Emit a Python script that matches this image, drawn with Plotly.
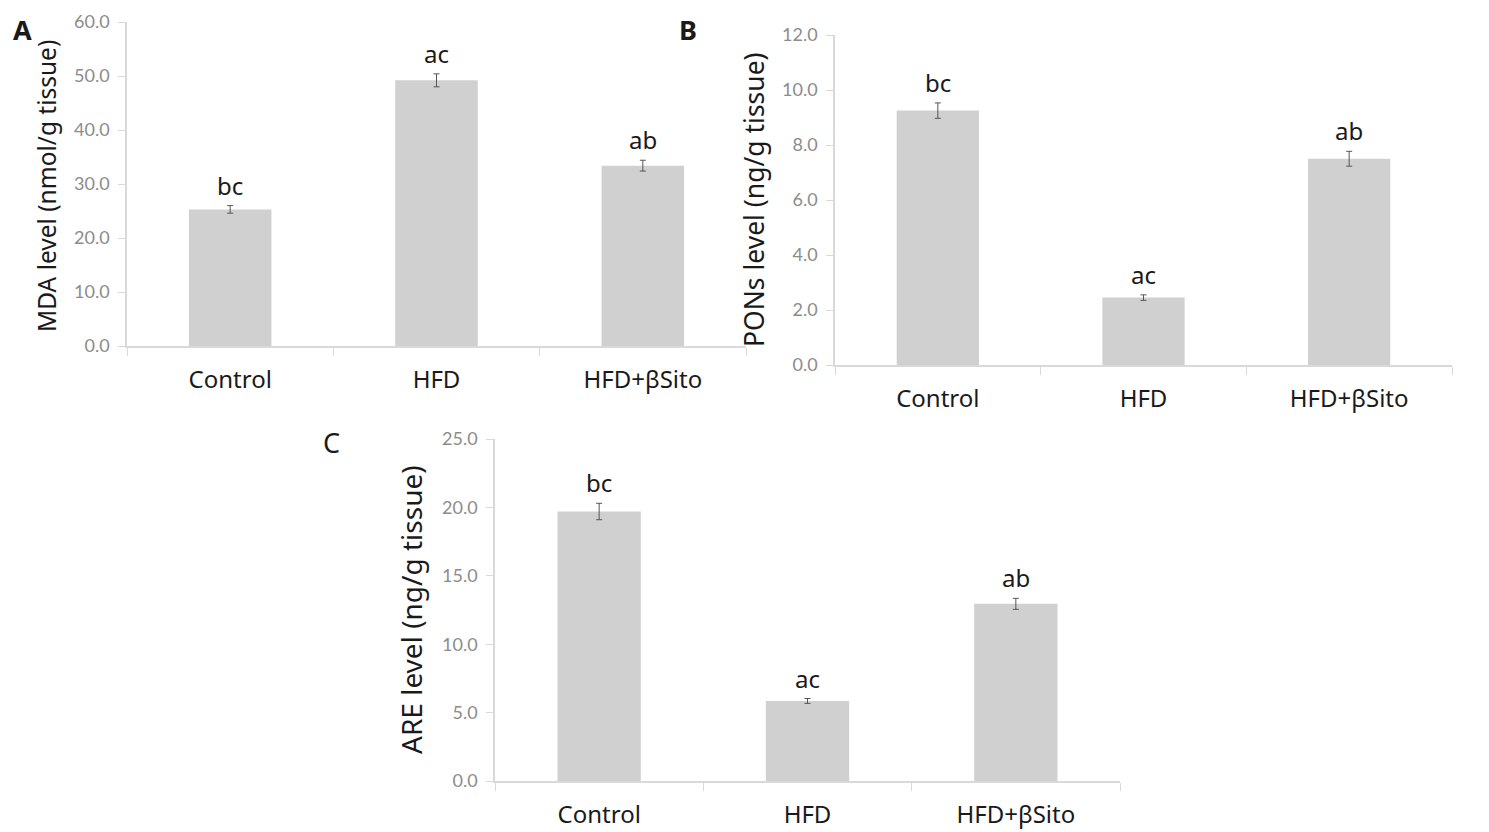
import plotly.graph_objects as go

categories = ["Control", "HFD", "HFD+βSito"]

mda_values = [25.3, 49.2, 33.4]
mda_errors = [0.7, 1.2, 1.0]
mda_letters = ["bc", "ac", "ab"]

pons_values = [9.25, 2.45, 7.5]
pons_errors = [0.28, 0.1, 0.27]
pons_letters = ["bc", "ac", "ab"]

are_values = [19.7, 5.85, 12.95]
are_errors = [0.6, 0.18, 0.4]
are_letters = ["bc", "ac", "ab"]

mda_ticks = [0, 10, 20, 30, 40, 50, 60]
pons_ticks = [0, 2, 4, 6, 8, 10, 12]
are_ticks = [0, 5, 10, 15, 20, 25]

FONT = "Noto Sans"
TICKFONT = "Lato"
BAR = "#d0d0d0"
AXIS = "#d9d9d9"
TICKC = "#8c8c8c"
TXT = "#1a1a1a"

# page has an 8px body margin; figure sized to fit the window
OFF = 8
W, H = 1489 - OFF, 832 - OFF


def px(x):
    return (x - OFF) / W


def py(y):
    return 1 - (y - OFF) / H


panels = [
    dict(vals=mda_values, errs=mda_errors, letters=mda_letters, ticks=mda_ticks, rng=60,
         xd=[px(127), px(746)], yd=[py(346), py(22)],
         title="MDA level (nmol/g tissue)", tsize=24.5, tx=px(46), ty=py(186),
         lab="<b>A</b>", lx=px(22), ly=py(30)),
    dict(vals=pons_values, errs=pons_errors, letters=pons_letters, ticks=pons_ticks, rng=12,
         xd=[px(835), px(1452)], yd=[py(365), py(35)],
         title="PONs level (ng/g tissue)", tsize=26.5, tx=px(754), ty=py(199),
         lab="<b>B</b>", lx=px(688), ly=py(29)),
    dict(vals=are_values, errs=are_errors, letters=are_letters, ticks=are_ticks, rng=25,
         xd=[px(495), px(1120)], yd=[py(781), py(439)],
         title="ARE level (ng/g tissue)", tsize=28, tx=px(411), ty=py(610),
         lab="C", lx=px(331), ly=py(442)),
]

fig = go.Figure()
annotations = []
layout = {}
for i, p in enumerate(panels):
    n = "" if i == 0 else str(i + 1)
    xa, ya = "x" + n, "y" + n
    fig.add_trace(go.Bar(
        x=categories, y=p["vals"], xaxis=xa, yaxis=ya,
        marker=dict(color=BAR, line=dict(width=0)),
        error_y=dict(type="data", array=p["errs"], color="#555555", thickness=1, width=3),
        showlegend=False, hoverinfo="x+y",
    ))
    layout["xaxis" + n] = dict(
        domain=p["xd"], anchor=ya, type="category", range=[-0.5, 2.5],
        showline=True, linecolor=AXIS, linewidth=1.5,
        ticks="outside", tickson="boundaries", ticklen=8, tickcolor=AXIS,
        tickfont=dict(family=FONT, size=24, color=TXT),
        ticklabelstandoff=11, showgrid=False, zeroline=False, fixedrange=True,
    )
    layout["yaxis" + n] = dict(
        domain=p["yd"], anchor=xa, range=[0, p["rng"]],
        tickvals=p["ticks"], ticktext=[f"{t:.1f}" for t in p["ticks"]],
        showline=True, linecolor=AXIS, linewidth=1.5,
        ticks="outside", ticklen=7, tickcolor=AXIS,
        tickfont=dict(family=TICKFONT, size=18, color=TICKC),
        ticklabelstandoff=5, showgrid=False, zeroline=False, fixedrange=True,
    )
    for c, v, e, l in zip(categories, p["vals"], p["errs"], p["letters"]):
        annotations.append(dict(
            x=c, y=v + e, xref=xa, yref=ya, text=l, showarrow=False,
            yanchor="bottom", yshift=2,
            font=dict(family=FONT, size=24, color=TXT),
        ))
    annotations.append(dict(
        x=p["tx"], y=p["ty"], xref="paper", yref="paper", text=p["title"],
        textangle=-90, showarrow=False, xanchor="center", yanchor="middle",
        font=dict(family=FONT, size=p["tsize"], color=TXT),
    ))
    annotations.append(dict(
        x=p["lx"], y=p["ly"], xref="paper", yref="paper", text=p["lab"],
        showarrow=False, xanchor="center", yanchor="middle",
        font=dict(family=FONT, size=27, color=TXT),
    ))

fig.update_layout(
    width=W, height=H,
    margin=dict(l=0, r=0, t=0, b=0, autoexpand=False),
    paper_bgcolor="white", plot_bgcolor="white",
    bargap=0.6,
    annotations=annotations,
    **layout,
)

fig.write_html("out.html")
